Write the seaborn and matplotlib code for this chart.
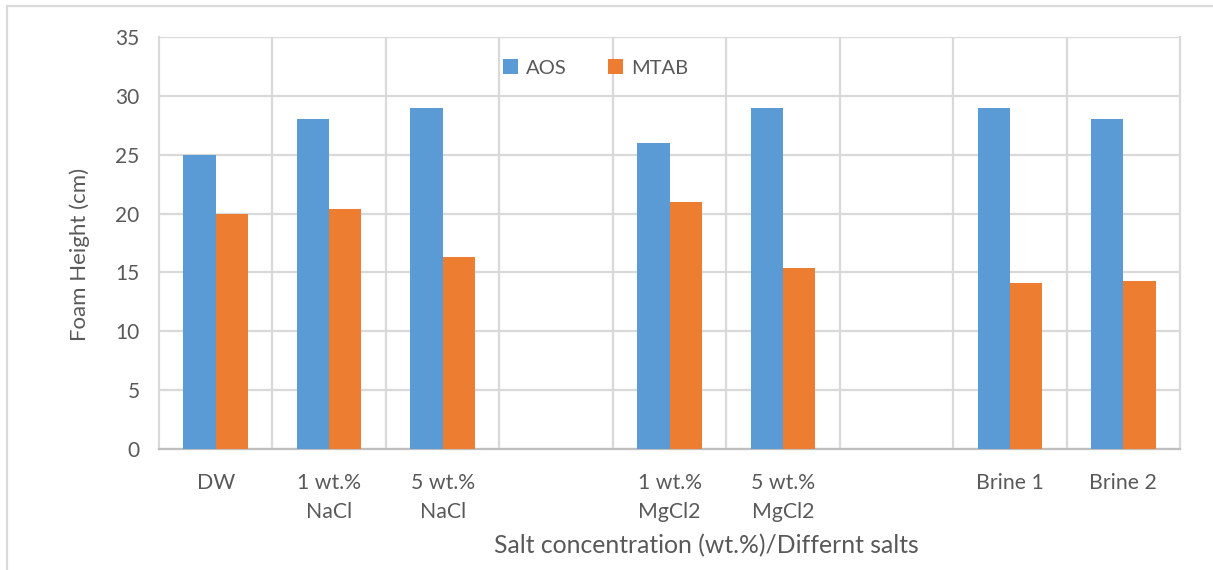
import matplotlib
matplotlib.use("Agg")
import matplotlib.pyplot as plt
from matplotlib.patches import Rectangle
import numpy as np
import pandas as pd
import seaborn as sns

# Category slots (two blank spacer slots separate the salt groups)
categories = ["DW", "1 wt.%\nNaCl", "5 wt.%\nNaCl", " ", "1 wt.%\nMgCl2",
              "5 wt.%\nMgCl2", "  ", "Brine 1", "Brine 2"]
aos = [25, 28, 29, np.nan, 26, 29, np.nan, 29, 28]
mtab = [20, 20.4, 16.3, np.nan, 21, 15.4, np.nan, 14.1, 14.3]
series = ["AOS", "MTAB"]
colors = ["#5B9BD5", "#ED7D31"]

df = pd.DataFrame({
    "category": categories * 2,
    "surfactant": [series[0]] * len(categories) + [series[1]] * len(categories),
    "height": aos + mtab,
}).dropna()

sns.set_theme(style="white")
plt.rcParams["font.family"] = ["Lato", "DejaVu Sans"]
text_color = "#595959"
grid_color = "#d9d9d9"

fig = plt.figure(figsize=(12.13, 5.70), dpi=100)
ax = fig.add_axes([159 / 1213, 121 / 570, 1021 / 1213, 412 / 570])

sns.barplot(data=df, x="category", y="height", hue="surfactant",
            order=categories, hue_order=series, palette=colors,
            width=0.57, gap=0, saturation=1, edgecolor="none",
            errorbar=None, ax=ax, zorder=3)

ax.set_xlim(-0.5, len(categories) - 0.5)
ax.set_ylim(0, 35)
ax.set_yticks(np.arange(0, 36, 5))

# Horizontal gridlines at each tick, vertical lines between categories
ax.yaxis.grid(True, color=grid_color, lw=1.6, zorder=0)
for b in np.arange(0.5, len(categories) - 1, 1.0):
    ax.axvline(b, color=grid_color, lw=1.6, zorder=0)

ax.spines["top"].set_visible(False)
ax.spines["left"].set_color(grid_color)
ax.spines["left"].set_linewidth(1.6)
ax.spines["right"].set_color(grid_color)
ax.spines["right"].set_linewidth(1.6)
ax.spines["bottom"].set_color("#bfbfbf")
ax.spines["bottom"].set_linewidth(1.6)

ax.tick_params(axis="y", length=0, labelsize=15, colors=text_color, pad=14)
ax.tick_params(axis="x", length=0, labelsize=15.3, colors=text_color, pad=17)
for lab in ax.get_xticklabels():
    lab.set_linespacing(1.6)
    lab.set_verticalalignment("top")

ax.set_xlabel("Salt concentration (wt.%)/Differnt salts", fontsize=17.8, color=text_color)
ax.set_ylabel("Foam Height (cm)", fontsize=16, color=text_color)
ax.xaxis.set_label_coords(0.536, -0.207)
ax.yaxis.set_label_coords(-0.0676, 0.473)

ax.legend(loc="center", bbox_to_anchor=(0.4275, 0.925), ncol=2, frameon=False,
          fontsize=14.5, handlelength=0.75, handleheight=0.75, handletextpad=0.4,
          columnspacing=2.05, labelcolor=text_color)

# Light frame around the chart area
fig.add_artist(Rectangle((7 / 1213, -0.2), 1.2, 1.2 - 6 / 570,
                         transform=fig.transFigure, fill=False,
                         edgecolor=grid_color, lw=1.6))

fig.savefig("out.png", dpi=100, facecolor="white")
